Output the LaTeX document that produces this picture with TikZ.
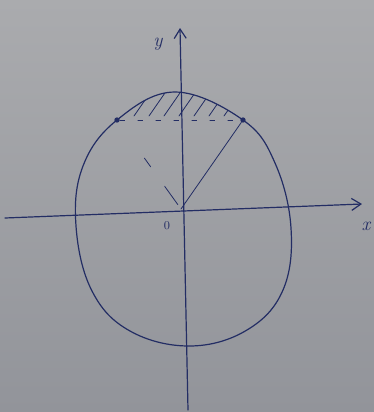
\documentclass[tikz,border=0pt]{standalone}
\usetikzlibrary{arrows.meta}
\definecolor{ink}{RGB}{35,45,100}
\definecolor{papertop}{RGB}{170,171,174}
\definecolor{paperbot}{RGB}{146,148,154}
\tikzset{
  inkline/.style={draw=ink, line width=0.9pt, line cap=round},
  thinink/.style={draw=ink, line width=0.6pt, line cap=round},
  axisarrow/.style={inkline, -{Straight Barb[length=7pt,width=9pt]}},
  dotpt/.style={circle, fill=ink, inner sep=0pt, minimum size=4pt},
  lbl/.style={text=ink, font=\Large\itshape, inner sep=0pt}
}
\begin{document}
\begin{tikzpicture}[x=0.75pt,y=-0.75pt]
\useasboundingbox (0,0) rectangle (374,412);
\shade[top color=papertop, bottom color=paperbot] (0,0) rectangle (374,412);
% axes
\coordinate (xs) at (5,218);
\coordinate (xe) at (362,204);
\coordinate (ys) at (188,410);
\coordinate (ye) at (180,28);
\coordinate (O) at (181,209);
\draw[axisarrow] (xs) -- (xe);
\draw[axisarrow] (ys) -- (ye);
\node[lbl] (ylab) at (158,44) {y};
\node[lbl] (xlab) at (366,226) {x};
\node[text=ink, font=\small, inner sep=0pt] (olab) at (167,226) {0};
% oval
\def\ovalpath{plot[smooth cycle, tension=0.65] coordinates {(175,92) (243,120) (275,163) (291,228) (283,290) (247,330) (190,346) (130,331) (92,291) (76,226) (83,166) (117,120)}}
\draw[inkline] \ovalpath;
% hatching of the cap
\begin{scope}
  \clip (0,0) rectangle (374,117);
  \clip \ovalpath;
  \foreach \k in {0,...,7}{
    \draw[thinink] ({134+15*\k},116) -- ({152+15*\k},90);
  }
\end{scope}
% points
\node[dotpt] (L) at (117,120) {};
\node[dotpt] (R) at (243,120) {};
\draw[thinink, dash pattern=on 3.5pt off 10pt] (L) -- (R);
\draw[thinink] (O) -- (R);
\draw[thinink, dash pattern=on 17pt off 18pt on 8pt off 60pt, dash phase=-4pt] (O) -- (L);
\end{tikzpicture}
\end{document}
